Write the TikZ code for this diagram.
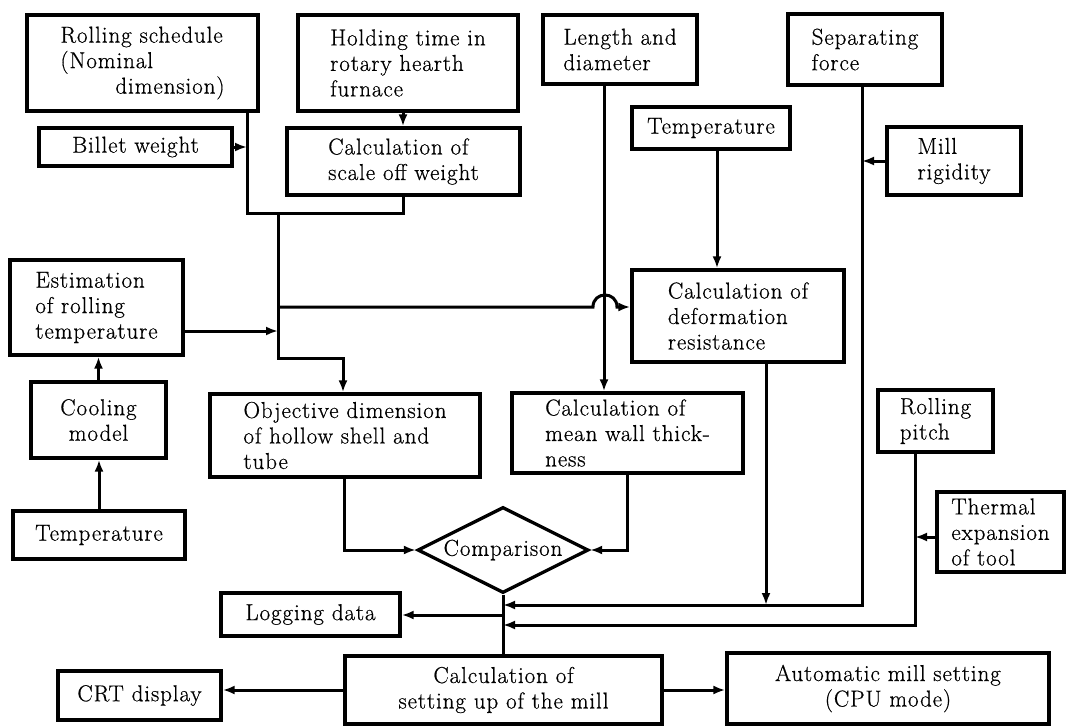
\documentclass[tikz,border=0pt]{standalone}
\usepackage{fontspec}
\setmainfont[LetterSpace=4,FakeBold=0.6]{Latin Modern Roman}
\usetikzlibrary{arrows.meta,shapes.geometric}
\tikzset{
  box/.style={draw,line width=3.3pt,rectangle,inner sep=2pt,align=left},
  cbox/.style={box,align=center},
  ln/.style={line width=3pt},
  arr/.style={-{Latex[length=12pt,width=9pt]}},
}
\def\mkbox#1#2#3#4#5#6#7{\node[#1,minimum width={#5-#3},minimum height={#6-#4}] (#2) at ({(#3+#5)/2},{(#4+#6)/2}) {#7};}
\begin{document}
\begin{tikzpicture}[x=1pt,y=-1pt,font=\fontsize{23}{25.5}\selectfont]
\useasboundingbox (0,0) rectangle (1066,728);
% boxes
\mkbox{box}{RS}{27}{15}{258}{111}{Rolling schedule\\(Nominal\\\hspace*{55pt}dimension)}
\mkbox{box}{HT}{298}{15}{518}{111}{Holding time in\\rotary hearth\\furnace}
\mkbox{cbox}{BW}{39}{128}{232}{166}{Billet weight}
\mkbox{box}{CS}{287}{128}{520}{195}{Calculation of\\scale off weight}
\mkbox{box}{LD}{543}{15}{697}{84}{Length and\\diameter}
\mkbox{cbox}{TT}{632}{107}{790}{149}{Temperature}
\mkbox{box}{SF}{788}{14}{942}{85}{Separating\\force}
\mkbox{box}{MR}{887}{127}{1021}{195}{Mill\\rigidity}
\mkbox{box}{ERT}{10}{260}{183}{355}{Estimation\\of rolling\\temperature}
\mkbox{box}{CDR}{632}{270}{844}{362}{Calculation of\\deformation\\resistance}
\mkbox{cbox}{CM}{31}{382}{166}{458}{Cooling\\model}
\mkbox{box}{ODS}{210}{394}{480}{477}{Objective dimension\\of hollow shell and\\tube}
\mkbox{box}{CMWT}{512}{393}{743}{473}{Calculation of\\mean wall thick-\\ness}
\mkbox{box}{RP}{878}{390}{993}{452}{Rolling\\pitch}
\mkbox{cbox}{TB}{13}{511}{185}{559}{Temperature}
\mkbox{box}{TE}{937}{492}{1064}{572}{Thermal\\expansion\\of tool}
\mkbox{cbox}{LOG}{221}{593}{400}{636}{Logging data}
\mkbox{cbox}{CRT}{58}{671}{221}{720}{CRT display}
\mkbox{cbox}{CSM}{345}{656}{662}{724}{Calculation of\\setting up of the mill}
\mkbox{cbox}{AMS}{727}{653}{1049}{724}{Automatic mill setting\\(CPU mode)}
\node[draw,line width=3.3pt,diamond,aspect=2,inner sep=0pt,minimum width=171pt,minimum height=86pt] (CMP) at (503,550) {Comparison};
% junction coordinates
\coordinate (jA) at (247,213);
\coordinate (jB) at (403,213);
\coordinate (tr) at (278,213);
\coordinate (tr2) at (278,358);
\coordinate (oa) at (343,358);
\coordinate (br) at (278,307);
\coordinate (er) at (278,331);
\coordinate (h1) at (593,307);
\coordinate (h2) at (617,307);
\coordinate (ldx) at (604,0);
\coordinate (ttx) at (717,0);
\coordinate (sfc) at (862,605);
\coordinate (tA) at (503,605);
\coordinate (cdx) at (766,0);
\coordinate (rpc) at (915,625);
\coordinate (tB) at (503,625);
\coordinate (oc) at (344,550);
\coordinate (mc) at (627,550);
\coordinate (tL) at (503,615);
% connectors
\draw[ln] (RS.south -| jA) -- (jA) -- (jB) -- (CS.south -| jB);
\draw[ln,arr] (tr) -- (tr2) -- (oa) -- (oa |- ODS.north);
\draw[ln,arr] (BW.east) -- (BW.east -| jA);
\draw[ln,arr] (HT.south -| jB) -- (CS.north -| jB);
\draw[ln,arr] (ERT.east |- er) -- (er);
\draw[ln,arr] (br) -- (h1) .. controls (593,291) and (617,291) .. (h2) -- (CDR.west |- br);
\draw[ln,arr] (LD.south -| ldx) -- (CMWT.north -| ldx);
\draw[ln,arr] (TT.south -| ttx) -- (CDR.north -| ttx);
\draw[ln,arr] (SF.south -| sfc) -- (sfc) -- (tA);
\draw[ln,arr] (MR.west) -- (MR.west -| sfc);
\draw[ln,arr] (CDR.south -| cdx) -- (cdx |- sfc);
\draw[ln,arr] (RP.south -| rpc) -- (rpc) -- (tB);
\draw[ln,arr] (TE.west |- 0,537) -- (rpc |- 0,537);
\draw[ln,arr] (ODS.south -| oc) -- (oc) -- (CMP.west);
\draw[ln,arr] (CMWT.south -| mc) -- (mc) -- (CMP.east);
\draw[ln] (CMP.south) -- (CSM.north -| CMP.south);
\draw[ln,arr] (tL) -- (LOG.east |- tL);
\draw[ln,arr] (CSM.west) -- (CSM.west -| CRT.east);
\draw[ln,arr] (CSM.east) -- (CSM.east -| AMS.west);
\draw[ln,arr] (CM.north) -- (ERT.south -| CM.north);
\draw[ln,arr] (TB.north) -- (CM.south -| TB.north);
\end{tikzpicture}
\end{document}
